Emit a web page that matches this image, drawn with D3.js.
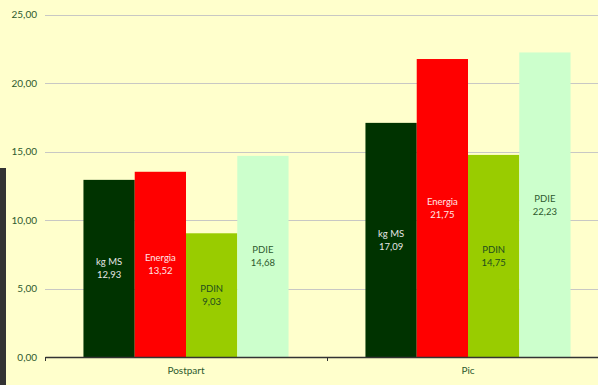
<!DOCTYPE html>
<html><head><meta charset="utf-8">
<script src="https://cdn.jsdelivr.net/npm/d3@7"></script>
<style>body{margin:0;background:#FFFFCC;overflow:hidden}svg{display:block}</style>
</head><body>
<svg id="c" width="598" height="385"></svg>
<script>
const categories = ["Postpart", "Pic"];
const seriesNames = ["kg MS", "Energia", "PDIN", "PDIE"];
const kgMS = [12.93, 17.09];
const energia = [13.52, 21.75];
const pdin = [9.03, 14.75];
const pdie = [14.68, 22.23];
const yTicks = [0, 5, 10, 15, 20, 25];

const seriesValues = [kgMS, energia, pdin, pdie];
const colors = ["#003300", "#FF0000", "#99CC00", "#CCFFCC"];
const labelColors = ["#E6E6E6", "#FFE6E6", "#1E4D1E", "#2E5A2E"];

const svg = d3.select("#c");
const W = 598, H = 385;
svg.append("rect").attr("width", W).attr("height", H).attr("fill", "#FFFFCC");
// dark strip on the left edge
svg.append("rect").attr("x", 0).attr("y", 168).attr("width", 6).attr("height", H - 168).attr("fill", "#333333");

const x0 = 45, x1 = 609;
const y = d3.scaleLinear().domain([0, 25]).range([357, 14.5]);
const x = d3.scaleBand().domain(categories).range([x0, x1]).paddingInner(0).paddingOuter(0);
const xs = d3.scaleBand().domain(seriesNames).range([0, x.bandwidth()]).paddingOuter(0.75).paddingInner(0);

const font = "Lato, 'Open Sans', sans-serif";
const textCol = "#2E5A2E";

// gridlines
svg.append("g").selectAll("line").data(yTicks.filter(d => d > 0)).join("line")
  .attr("x1", x0).attr("x2", W).attr("y1", d => Math.round(y(d)) + 0.5).attr("y2", d => Math.round(y(d)) + 0.5)
  .attr("stroke", "#C8C8C4").attr("stroke-width", 1.2);

// y axis labels
const yAxis = d3.axisLeft(y).tickValues(yTicks).tickSize(0).tickPadding(8)
  .tickFormat(d => d3.format(".2f")(d).replace(".", ","));
const ga = svg.append("g").attr("transform", `translate(${x0},0)`).call(yAxis);
ga.select(".domain").remove();
ga.selectAll("text").attr("font-family", font).attr("font-size", 10).attr("fill", textCol);

// bars
const groups = svg.append("g").selectAll("g").data(categories).join("g")
  .attr("transform", d => `translate(${x(d)},0)`);
groups.each(function(cat, ci) {
  const g = d3.select(this);
  seriesNames.forEach((s, si) => {
    const v = seriesValues[si][ci];
    g.append("rect").attr("x", xs(s)).attr("width", xs.bandwidth())
      .attr("y", y(v)).attr("height", y(0) - y(v)).attr("fill", colors[si]);
    const cx = xs(s) + xs.bandwidth() / 2;
    const my = (y(v) + y(0)) / 2;
    const t = g.append("text").attr("x", cx).attr("text-anchor", "middle")
      .attr("font-family", font).attr("font-size", 9.5).attr("fill", labelColors[si]);
    t.append("tspan").attr("x", cx).attr("y", my - 3).text(s);
    t.append("tspan").attr("x", cx).attr("y", my + 10).text(d3.format(".2f")(v).replace(".", ","));
  });
});

// x axis
const xAxis = d3.axisBottom(x).tickSize(0).tickPadding(10);
const gx = svg.append("g").attr("transform", `translate(0,${y(0)})`).call(xAxis);
gx.select(".domain").attr("stroke", "#333").attr("stroke-width", 1.3);
gx.selectAll("text").attr("font-family", font).attr("font-size", 10).attr("fill", textCol);
// tick marks at band boundaries
svg.append("g").selectAll("line").data([x0, x0 + x.bandwidth()]).join("line")
  .attr("x1", d => d + 0.5).attr("x2", d => d + 0.5).attr("y1", y(0)).attr("y2", y(0) + 4)
  .attr("stroke", "#333").attr("stroke-width", 1);
</script>
</body></html>
